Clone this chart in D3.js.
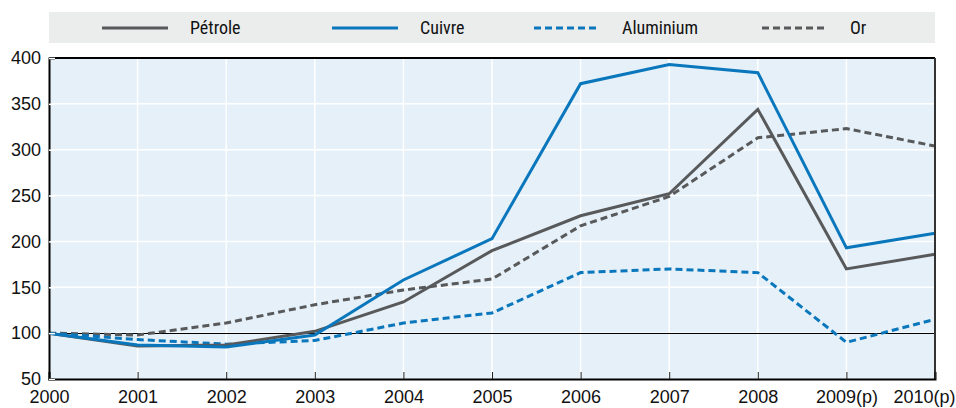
<!DOCTYPE html>
<html><head><meta charset="utf-8">
<script src="https://cdn.jsdelivr.net/npm/d3@7"></script>
<style>
body{margin:0;background:#fff;}
svg{display:block;font-family:"Liberation Sans Narrow","Roboto Condensed","Liberation Sans",sans-serif;}
</style></head>
<body><svg id="c" width="956" height="408"></svg>
<script>
const years = ["2000","2001","2002","2003","2004","2005","2006","2007","2008","2009(p)","2010(p)"];
const petrole = [100, 86, 87, 102, 134, 190, 228, 252, 344, 170, 186];
const cuivre = [100, 87, 85, 98, 158, 203, 372, 393, 384, 193, 209];
const aluminium = [100, 93, 88, 92, 111, 122, 166, 170, 166, 90, 115];
const or = [100, 98, 111, 131, 147, 159, 217, 249, 313, 323, 304];
const yTicks = [50, 100, 150, 200, 250, 300, 350, 400];
const seriesNames = ["Pétrole", "Cuivre", "Aluminium", "Or"];

const grey = "#58595b", blue = "#0a77bd";
const series = [
  {name: seriesNames[0], values: petrole, color: grey, dash: null},
  {name: seriesNames[1], values: cuivre, color: blue, dash: null},
  {name: seriesNames[2], values: aluminium, color: blue, dash: "7,4"},
  {name: seriesNames[3], values: or, color: grey, dash: "7,4"}
];

const svg = d3.select("#c");
const L = 49, R = 935, T = 58, B = 379;
const x = d3.scalePoint().domain(years).range([L, R]);
const y = d3.scaleLinear().domain([50, 400]).range([B, T]);

// legend background
svg.append("rect").attr("x", 49).attr("y", 12).attr("width", 886).attr("height", 31).attr("fill", "#ebeded");
const legX = [102, 332, 534, 762];
series.forEach((s, i) => {
  const g = svg.append("g");
  g.append("line").attr("x1", legX[i]).attr("x2", legX[i] + 66).attr("y1", 28).attr("y2", 28)
    .attr("stroke", s.color).attr("stroke-width", 3).attr("stroke-dasharray", s.dash);
  g.append("text").attr("x", legX[i] + 88).attr("y", 34).attr("font-size", 18).attr("fill", "#111").text(s.name);
});

// plot background
svg.append("rect").attr("x", L).attr("y", T).attr("width", R - L).attr("height", B - T).attr("fill", "#e5f0f8");

// grid
svg.append("g").selectAll("line").data(yTicks.filter(d => d > 50 && d < 400)).join("line")
  .attr("x1", L).attr("x2", R).attr("y1", d => y(d)).attr("y2", d => y(d))
  .attr("stroke", "#fff").attr("stroke-width", 1.5);
svg.append("g").selectAll("line").data(years.slice(1, -1)).join("line")
  .attr("x1", d => x(d)).attr("x2", d => x(d)).attr("y1", T).attr("y2", B)
  .attr("stroke", "#fff").attr("stroke-width", 1.5);

// 100 reference line
const y100 = Math.round(y(100)) + 0.5;
svg.append("line").attr("x1", L).attr("x2", R).attr("y1", y100).attr("y2", y100)
  .attr("stroke", "#000").attr("stroke-width", 1);

// lines
const line = d3.line().x((d, i) => x(years[i])).y(d => y(d));
[series[3], series[2], series[0], series[1]].forEach(s => {
  svg.append("path").datum(s.values).attr("d", line).attr("fill", "none")
    .attr("stroke", s.color).attr("stroke-width", 3).attr("stroke-dasharray", s.dash)
    .attr("stroke-linejoin", "miter");
});

// frame
svg.append("line").attr("x1", L).attr("x2", R).attr("y1", T).attr("y2", T).attr("stroke", "#000").attr("stroke-width", 2);
svg.append("line").attr("x1", R).attr("x2", R).attr("y1", T).attr("y2", B).attr("stroke", "#333").attr("stroke-width", 2);

// axes
const xAxis = d3.axisBottom(x).tickSize(-7).tickPadding(11);
const gx = svg.append("g").attr("transform", `translate(0,${B})`).call(xAxis);
gx.select(".domain").attr("stroke", "#000").attr("stroke-width", 2);
gx.selectAll(".tick line").attr("stroke", "#222");
gx.selectAll("text").attr("font-size", 18).attr("fill", "#111").attr("font-family", null);
// keep last label inside the picture
gx.selectAll(".tick").filter(d => d === years[years.length - 1]).select("text")
  .attr("text-anchor", "end").attr("x", 955 - R);

const yAxis = d3.axisLeft(y).tickValues(yTicks).tickSize(-6).tickPadding(8);
const gy = svg.append("g").attr("transform", `translate(${L},0)`).call(yAxis);
gy.select(".domain").attr("stroke", "#000").attr("stroke-width", 2);
gy.selectAll(".tick line").attr("stroke", "#fff").attr("stroke-width", 1.5);
gy.selectAll("text").attr("font-size", 18).attr("fill", "#111").attr("font-family", null);
</script></body></html>
